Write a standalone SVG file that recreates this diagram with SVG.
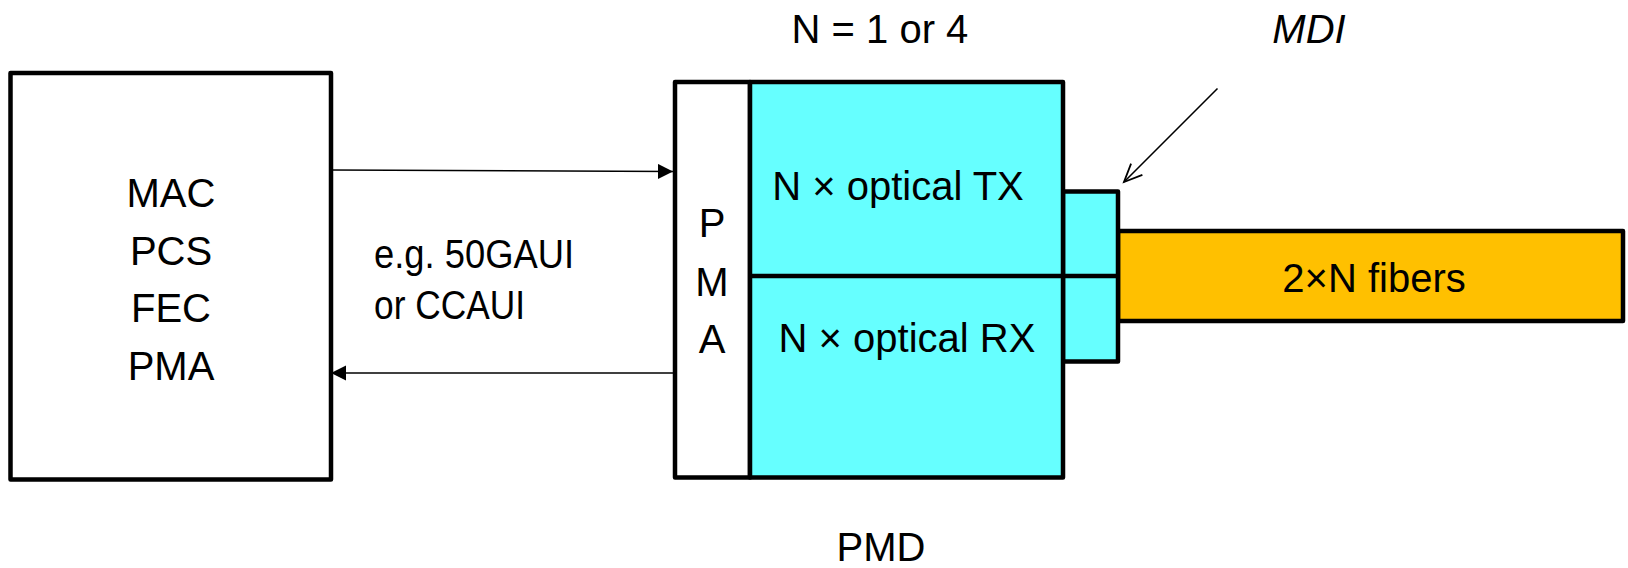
<svg xmlns="http://www.w3.org/2000/svg" width="1628" height="568" viewBox="0 0 1628 568">
<style>
  .box { stroke: #000; stroke-width: 4.5; stroke-linejoin: round; }
  .t { font-family: "Liberation Sans", Arial, sans-serif; font-size: 40px; fill: #000; }
  .c { text-anchor: middle; }
  .conn { stroke: #000; stroke-width: 1.6; fill: none; }
</style>
<defs>
  <marker id="tri" markerUnits="userSpaceOnUse" markerWidth="16" markerHeight="16" refX="15" refY="7.5" orient="auto">
    <path d="M0,0 L15,7.5 L0,15 Z" fill="#000"/>
  </marker>
  <marker id="open" markerUnits="userSpaceOnUse" markerWidth="24" markerHeight="24" refX="20" refY="10" orient="auto">
    <path d="M2,2 L20,10 L2,18" fill="none" stroke="#000" stroke-width="1.8"/>
  </marker>
</defs>

<g id="mac">
  <rect class="box" x="10.5" y="73" width="320.5" height="406.5" fill="#fff"/>
  <text class="t c" x="171" y="207">MAC</text>
  <text class="t c" x="171" y="264.5">PCS</text>
  <text class="t c" x="171" y="322">FEC</text>
  <text class="t c" x="171" y="379.5">PMA</text>
</g>

<g id="fiber">
  <rect class="box" x="1118" y="231" width="505" height="90" fill="#FFC000"/>
  <text class="t c" x="1374" y="292">2×N fibers</text>
</g>

<g id="mdi-connector">
  <rect class="box" x="1063" y="191.5" width="55" height="170" fill="#66FFFF"/>
</g>

<g id="pmd">
  <rect class="box" x="675" y="82" width="75" height="395.5" fill="#fff"/>
  <rect class="box" x="750" y="82" width="313" height="395.5" fill="#66FFFF"/>
  <line class="box" x1="750" y1="276" x2="1118" y2="276"/>
  <text class="t c" x="712" y="237">P</text>
  <text class="t c" x="712" y="295.5">M</text>
  <text class="t c" x="712" y="352.5">A</text>
  <text class="t c" x="898" y="200">N × optical TX</text>
  <text class="t c" x="907" y="351.5">N × optical RX</text>
</g>

<g id="connectors">
  <line class="conn" x1="331" y1="170" x2="673" y2="171.5" marker-end="url(#tri)"/>
  <line class="conn" x1="673" y1="373" x2="331" y2="373" marker-end="url(#tri)"/>
  <line class="conn" x1="1217.5" y1="88.5" x2="1124" y2="182" marker-end="url(#open)"/>
</g>

<g id="labels">
  <text class="t c" x="880" y="42.5">N = 1 or 4</text>
  <text class="t c" x="1309" y="43" font-style="italic">MDI</text>
  <text class="t" x="374" y="268" textLength="200" lengthAdjust="spacingAndGlyphs">e.g. 50GAUI</text>
  <text class="t" x="374" y="318.5" textLength="151" lengthAdjust="spacingAndGlyphs">or CCAUI</text>
  <text class="t c" x="881" y="561">PMD</text>
</g>
</svg>
